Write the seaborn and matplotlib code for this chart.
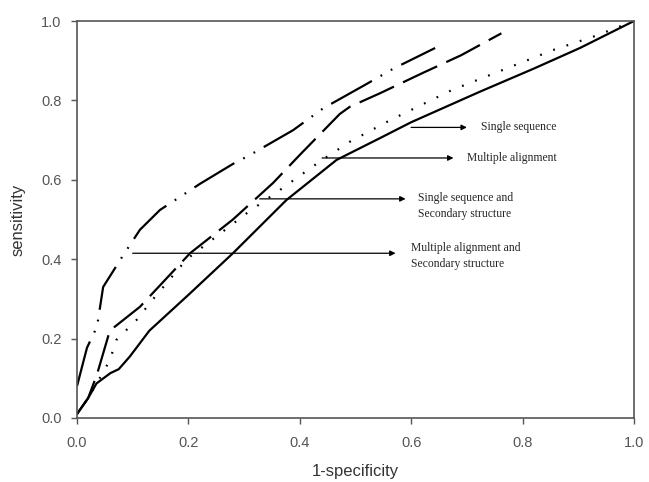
import matplotlib
matplotlib.use("Agg")
import matplotlib.pyplot as plt
import seaborn as sns
import pandas as pd

# ROC curves (x = 1-specificity, y = sensitivity)
solid_x = [0, 0.02, 0.035, 0.06, 0.075, 0.095, 0.13, 0.2, 0.28, 0.376, 0.466, 0.544, 0.6, 0.7235, 0.82, 0.903, 1.0]
solid_y = [0.01, 0.05, 0.087, 0.113, 0.123, 0.155, 0.22, 0.31, 0.415, 0.549, 0.65, 0.705, 0.745, 0.822, 0.88, 0.932, 1.0]

dotted_x = [0, 0.02, 0.047, 0.059, 0.071, 0.107, 0.137, 0.197, 0.305, 0.364, 0.436, 0.49, 0.562, 0.673, 0.765, 0.855, 0.93, 1.0]
dotted_y = [0.01, 0.05, 0.115, 0.146, 0.197, 0.247, 0.30, 0.40, 0.516, 0.574, 0.646, 0.696, 0.75, 0.826, 0.877, 0.927, 0.962, 1.0]

dashed_x = [0, 0.02, 0.036, 0.059, 0.113, 0.203, 0.28, 0.352, 0.403, 0.472, 0.49, 0.544, 0.619, 0.69, 0.762]
dashed_y = [0.01, 0.05, 0.11, 0.22, 0.28, 0.415, 0.50, 0.592, 0.667, 0.766, 0.784, 0.818, 0.868, 0.914, 0.969]

dashdot_x = [0, 0.018, 0.036, 0.047, 0.083, 0.113, 0.149, 0.221, 0.28, 0.31, 0.388, 0.442, 0.517, 0.568, 0.643]
dashdot_y = [0.08, 0.177, 0.23, 0.33, 0.41, 0.474, 0.524, 0.59, 0.64, 0.662, 0.725, 0.78, 0.839, 0.88, 0.932]

# annotations: label, arrow start x, arrow end x, y, text x
labels = ["Single sequence", "Multiple alignment",
          "Single sequence and\nSecondary structure",
          "Multiple alignment and\nSecondary structure"]
arrow_x0 = [0.60, 0.44, 0.328, 0.10]
arrow_x1 = [0.70, 0.676, 0.59, 0.572]
arrow_y = [0.732, 0.655, 0.552, 0.415]
text_x = [0.725, 0.70, 0.613, 0.60]
text_y = [0.732, 0.655, 0.535, 0.408]

sns.set_style("white")
plt.rcParams["font.family"] = ["Liberation Sans", "DejaVu Sans"]

fig = plt.figure(figsize=(6.49, 4.82), dpi=100)
ax = fig.add_axes([0.1186, 0.1328, 0.8582, 0.8236])

curves = [
    (solid_x, solid_y, "-", 1.6),
    (dotted_x, dotted_y, (0, (0.8, 5.5)), 1.6),
    (dashed_x, dashed_y, (0, (17, 4.5)), 1.6),
    (dashdot_x, dashdot_y, (0, (21, 4.5, 0.8, 4.5, 0.8, 4.5)), 1.6),
]
for xs, ys, ls, lw in curves:
    df = pd.DataFrame({"x": xs, "y": ys})
    sns.lineplot(data=df, x="x", y="y", ax=ax, color="black",
                 linestyle=ls, linewidth=lw, errorbar=None)

for lab, x0, x1, y, tx, ty in zip(labels, arrow_x0, arrow_x1, arrow_y, text_x, text_y):
    ax.annotate("", xy=(x1, y), xytext=(x0, y),
                arrowprops=dict(arrowstyle="-|>", color="black", lw=0.9,
                                mutation_scale=8, shrinkA=0, shrinkB=0))
    ax.text(tx, ty, lab, ha="left", va="center", fontsize=8.4,
            family=["Liberation Serif", "DejaVu Serif"], linespacing=1.45)

ax.set_xlim(0, 1)
ax.set_ylim(0, 1)
ticks = [0.0, 0.2, 0.4, 0.6, 0.8, 1.0]
ax.set_xticks(ticks)
ax.set_yticks(ticks)
ax.set_xticklabels([f"{t:.1f}" for t in ticks])
ax.set_yticklabels([f"{t:.1f}" for t in ticks])
ax.tick_params(direction="out", length=4, width=1, color="#555555",
               labelsize=10.5, labelcolor="#555555", bottom=True, left=True,
               top=False, right=False)
ax.tick_params(axis="x", pad=9)
ax.tick_params(axis="y", pad=7)
for sp in ax.spines.values():
    sp.set_color("#555555")
    sp.set_linewidth(1.2)
ax.set_xlabel("1-specificity", fontsize=12, color="#333333", labelpad=10)
ax.set_ylabel("sensitivity", fontsize=12, color="#333333", labelpad=11)

fig.savefig("out.png", dpi=100)
